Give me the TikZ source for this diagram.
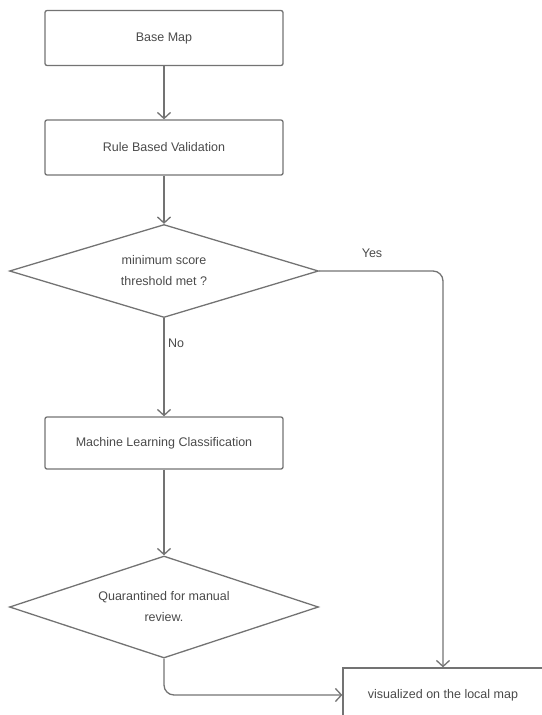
\documentclass[tikz,border=0pt]{standalone}
\usepackage{fontspec}
\setmainfont{Liberation Sans}
\usetikzlibrary{shapes.geometric,arrows.meta}
\definecolor{linec}{HTML}{737373}
\definecolor{textc}{HTML}{4A4A4A}
\begin{document}
\begin{tikzpicture}[x=1pt,y=-1pt,
  every node/.style={font=\fontsize{12.5}{21}\selectfont, text=textc},
  procbox/.style={draw=linec, line width=1.3pt, rectangle, rounded corners=2pt,
    minimum width=238pt, minimum height=55pt, inner sep=0pt},
  decbox/.style={draw=linec, line width=1.3pt, diamond, inner sep=0pt,
    minimum width=309pt, align=center},
  conn/.style={draw=linec, line width=1.3pt, -{Straight Barb[length=6pt,width=13pt]}},
  lbl/.style={inner sep=0pt}
]
\useasboundingbox (0,0) rectangle (541,715);
\node[procbox] (base) at (164,38) {Base Map};
\node[procbox] (rule) at (164,147.5) {Rule Based Validation};
\node[decbox, aspect=3.3, minimum height=93pt] (dec1) at (164,271) {minimum score\\threshold met ?};
\node[procbox, minimum height=52pt] (ml) at (164,443) {Machine Learning Classification};
\node[decbox, aspect=3.0, minimum height=102pt] (dec2) at (164,607) {Quarantined for manual\\review.};
\node[draw=linec, line width=1.3pt, rectangle, minimum width=200pt, minimum height=54pt, inner sep=0pt] (vis) at (443,695) {visualized on the local map};

\draw[conn] (base.south) -- (rule.north);
\draw[conn] (rule.south) -- (dec1.north);
\draw[conn] (dec1.south) -- (ml.north);
\draw[conn, rounded corners=10pt] (dec1.east) -| (vis.north);
\draw[conn] (ml.south) -- (dec2.north);
\draw[conn, rounded corners=10pt] (dec2.south) |- (vis.west);

\node[lbl] (yes) at (372,253) {Yes};
\node[lbl] (no) at (176,343) {No};
\end{tikzpicture}
\end{document}
